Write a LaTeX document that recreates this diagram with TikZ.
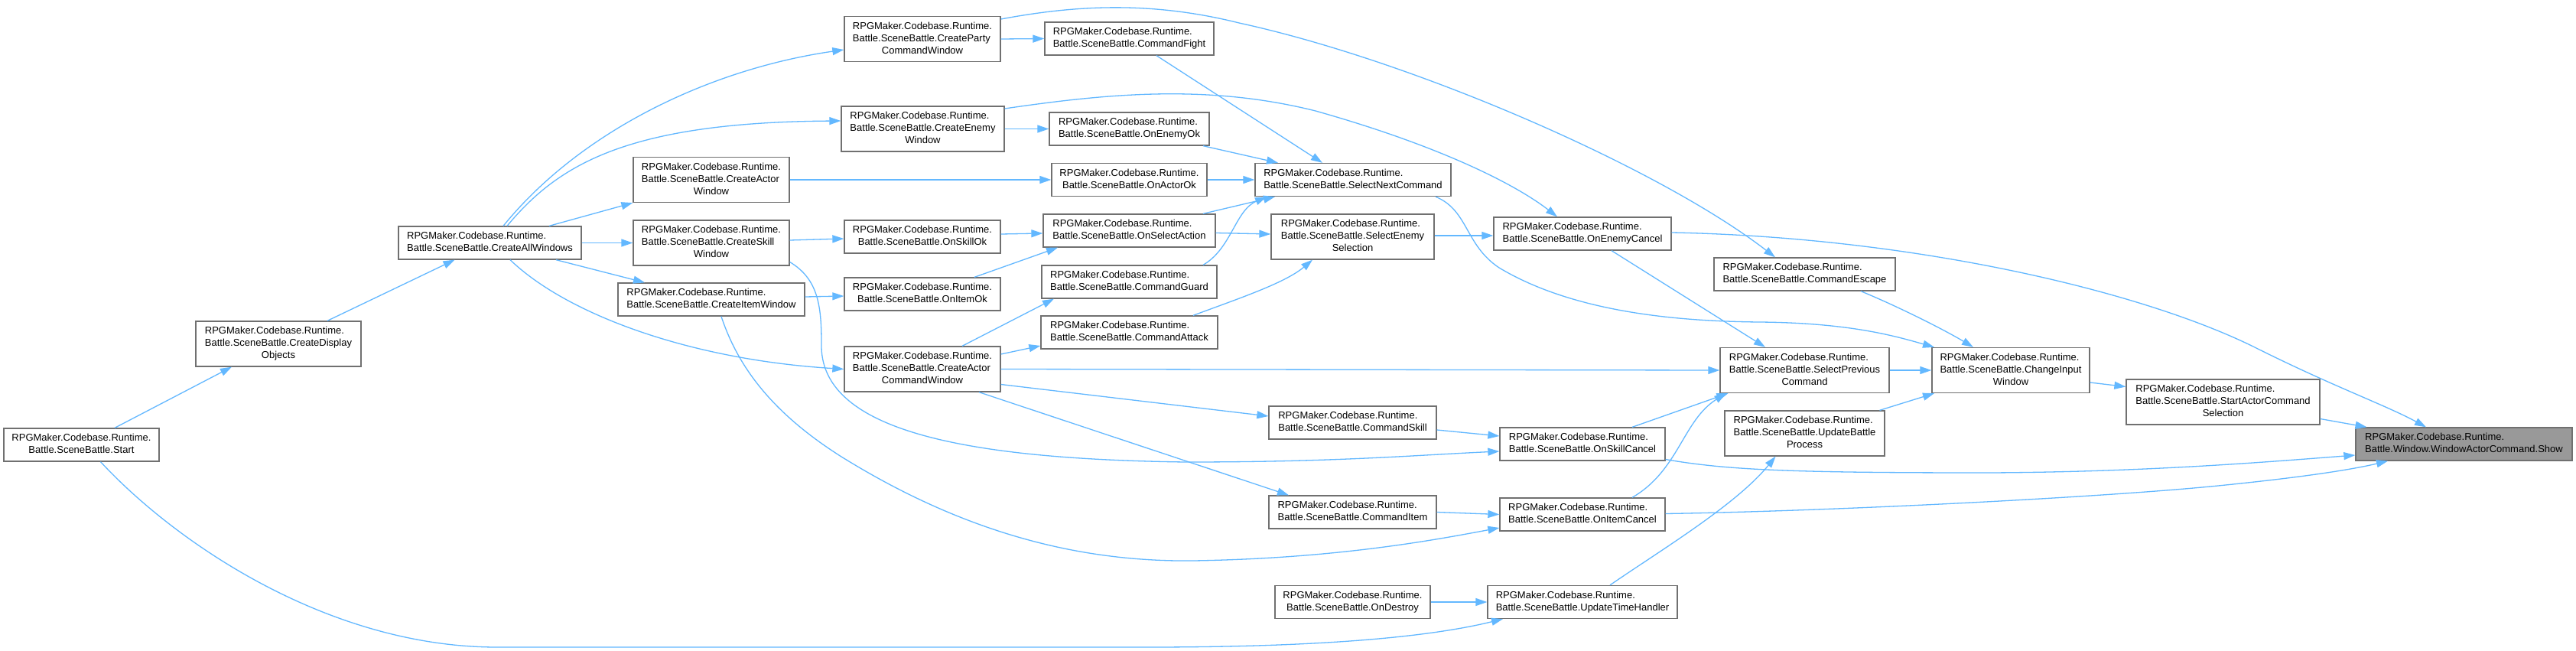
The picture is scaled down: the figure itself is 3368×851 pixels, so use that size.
\documentclass[tikz,border=0pt]{standalone}
\usepackage{fontspec}
\setmainfont{Liberation Sans}
\usetikzlibrary{arrows.meta}
\definecolor{edgeblue}{HTML}{63B8FF}
\definecolor{boxgrey}{HTML}{707070}
\definecolor{showfill}{HTML}{999999}
\newcommand{\lbltwo}[2]{\begin{tabular}{@{}l@{}}#1\\\multicolumn{1}{@{}c@{}}{#2}\end{tabular}}
\newcommand{\lblthree}[3]{\begin{tabular}{@{}l@{}}#1\\#2\\\multicolumn{1}{@{}c@{}}{#3}\end{tabular}}
\newcommand{\RPG}{RPGMaker.Codebase.Runtime.}
\begin{document}
\begin{tikzpicture}[x=1pt,y=-1pt,
  box/.style={draw=boxgrey, line width=1.3pt, fill=white, inner sep=2pt, minimum height=43pt, font=\fontsize{13}{16}\selectfont, anchor=center},
  box3/.style={box, minimum height=59pt},
  conn/.style={draw=edgeblue, line width=1.3pt, -{Triangle[length=15pt,width=10pt]}}]
\fill[white] (0,0) rectangle (3368,851);
\useasboundingbox (0,0) rectangle (3368,851);

\node[box, minimum width=203pt] (start) at (106.5,581.5) {\lbltwo{\RPG}{Battle.SceneBattle.Start}};
\node[box3, minimum width=216pt] (cdo) at (364,449.5) {\lblthree{\RPG}{Battle.SceneBattle.CreateDisplay}{Objects}};
\node[box, minimum width=239pt] (caw) at (640.5,317.5) {\lbltwo{\RPG}{Battle.SceneBattle.CreateAllWindows}};
\node[box3, minimum width=204pt] (cpcw) at (1206,51) {\lblthree{\RPG}{Battle.SceneBattle.CreateParty}{CommandWindow}};
\node[box3, minimum width=213pt] (cew) at (1206.5,168.5) {\lblthree{\RPG}{Battle.SceneBattle.CreateEnemy}{Window}};
\node[box3, minimum width=204pt] (cactw) at (930,235) {\lblthree{\RPG}{Battle.SceneBattle.CreateActor}{Window}};
\node[box3, minimum width=204pt] (csw) at (930,317.5) {\lblthree{\RPG}{Battle.SceneBattle.CreateSkill}{Window}};
\node[box, minimum width=244pt] (ciw) at (930,391.5) {\lbltwo{\RPG}{Battle.SceneBattle.CreateItemWindow}};
\node[box3, minimum width=204pt] (cacw) at (1206,482.5) {\lblthree{\RPG}{Battle.SceneBattle.CreateActor}{CommandWindow}};
\node[box, minimum width=204pt] (onskillok) at (1206,309.5) {\lbltwo{\RPG}{Battle.SceneBattle.OnSkillOk}};
\node[box, minimum width=204pt] (onitemok) at (1206,384.5) {\lbltwo{\RPG}{Battle.SceneBattle.OnItemOk}};
\node[box, minimum width=221pt] (cmdfight) at (1476.5,50.5) {\lbltwo{\RPG}{Battle.SceneBattle.CommandFight}};
\node[box, minimum width=209pt] (onenemyok) at (1476.5,168.5) {\lbltwo{\RPG}{Battle.SceneBattle.OnEnemyOk}};
\node[box, minimum width=203pt] (onactorok) at (1476.5,235) {\lbltwo{\RPG}{Battle.SceneBattle.OnActorOk}};
\node[box, minimum width=225pt] (onselact) at (1476.5,301.5) {\lbltwo{\RPG}{Battle.SceneBattle.OnSelectAction}};
\node[box, minimum width=229pt] (cmdguard) at (1476.5,368.5) {\lbltwo{\RPG}{Battle.SceneBattle.CommandGuard}};
\node[box, minimum width=231pt] (cmdattack) at (1476.5,434.5) {\lbltwo{\RPG}{Battle.SceneBattle.CommandAttack}};
\node[box, minimum width=256pt] (selnext) at (1769,235) {\lbltwo{\RPG}{Battle.SceneBattle.SelectNextCommand}};
\node[box3, minimum width=213pt] (selenemy) at (1768.5,309.5) {\lblthree{\RPG}{Battle.SceneBattle.SelectEnemy}{Selection}};
\node[box, minimum width=219pt] (cmdskill) at (1768.5,552.5) {\lbltwo{\RPG}{Battle.SceneBattle.CommandSkill}};
\node[box, minimum width=219pt] (cmditem) at (1768.5,669.5) {\lbltwo{\RPG}{Battle.SceneBattle.CommandItem}};
\node[box, minimum width=203pt] (ondestroy) at (1768.5,787) {\lbltwo{\RPG}{Battle.SceneBattle.OnDestroy}};
\node[box, minimum width=232pt] (onenemycancel) at (2069,305.5) {\lbltwo{\RPG}{Battle.SceneBattle.OnEnemyCancel}};
\node[box, minimum width=216pt] (onskillcancel) at (2069,580.5) {\lbltwo{\RPG}{Battle.SceneBattle.OnSkillCancel}};
\node[box, minimum width=216pt] (onitemcancel) at (2069,672.5) {\lbltwo{\RPG}{Battle.SceneBattle.OnItemCancel}};
\node[box, minimum width=248pt] (updtime) at (2069,787) {\lbltwo{\RPG}{Battle.SceneBattle.UpdateTimeHandler}};
\node[box, minimum width=237pt] (cmdescape) at (2359.5,358.5) {\lbltwo{\RPG}{Battle.SceneBattle.CommandEscape}};
\node[box3, minimum width=221pt] (selprev) at (2359.5,484) {\lblthree{\RPG}{Battle.SceneBattle.SelectPrevious}{Command}};
\node[box3, minimum width=209pt] (updbattle) at (2359.5,566.5) {\lblthree{\RPG}{Battle.SceneBattle.UpdateBattle}{Process}};
\node[box3, minimum width=206pt] (changeinput) at (2629,484) {\lblthree{\RPG}{Battle.SceneBattle.ChangeInput}{Window}};
\node[box3, minimum width=253pt] (startactor) at (2906.5,525.5) {\lblthree{\RPG}{Battle.SceneBattle.StartActorCommand}{Selection}};
\node[box, minimum width=283pt, fill=showfill] (show) at (3221.5,580.5) {\lbltwo{\RPG}{Battle.Window.WindowActorCommand.Show}};

\draw[conn] ([xshift=43.5pt]start.north) -- ([xshift=-61pt]cdo.south);
\draw[conn] ([xshift=64pt]cdo.north) -- ([xshift=-46pt]caw.south);
\draw[conn] ([xshift=25pt]start.south) .. controls (230,710) and (430,846) .. (650,846) -- (1500,846) .. controls (1750,846) and (1880,830) .. ([xshift=-104pt]updtime.south);
\draw[conn] ([xshift=17.5pt]caw.north) .. controls (760,170) and (930,90) .. ([yshift=-14pt]cpcw.west);
\draw[conn] ([xshift=22.5pt]caw.north) .. controls (730,215) and (820,160) .. ([yshift=10.5pt]cew.west);
\draw[conn] ([xshift=77.5pt]caw.north) -- (cactw.south west);
\draw[conn] (caw.east) -- (csw.west);
\draw[conn] ([xshift=86.5pt]caw.south) -- ([xshift=-87pt]ciw.north);
\draw[conn] ([xshift=26.5pt]caw.south) .. controls (740,410) and (900,470) .. (cacw.west);
\draw[conn] (cpcw.east) -- (cmdfight.west);
\draw[conn] ([yshift=26pt]cpcw.east) .. controls (1400,8) and (1500,0) .. (1620,30) .. controls (1850,80) and (2170,220) .. ([xshift=-38.5pt]cmdescape.north);
\draw[conn] (cew.east) -- (onenemyok.west);
\draw[conn] ([yshift=26.5pt]cew.east) .. controls (1450,122) and (1580,110) .. (1720,145) .. controls (1880,190) and (1980,240) .. ([xshift=-33pt]onenemycancel.north);
\draw[conn] (cactw.east) -- (onactorok.west);
\draw[conn] ([yshift=3.5pt]csw.east) -- ([yshift=-2.5pt]onskillok.west);
\draw[conn] ([yshift=-25pt]csw.east) .. controls (1070,365) and (1074,400) .. (1074,450) .. controls (1072,560) and (1250,600) .. (1550,604) .. controls (1750,604) and (1850,595) .. ([yshift=-9.5pt]onskillcancel.west);
\draw[conn] ([yshift=3.5pt]ciw.east) -- ([yshift=-2.5pt]onitemok.west);
\draw[conn] ([xshift=13pt]ciw.south) .. controls (965,480) and (1010,540) .. (1100,597) .. controls (1250,690) and (1400,735) .. (1560,733) .. controls (1750,730) and (1880,705) .. ([yshift=-17.5pt]onitemcancel.west);
\draw[conn] ([xshift=52pt]cacw.north) -- ([xshift=-98.5pt]cmdguard.south);
\draw[conn] ([yshift=19.5pt]cacw.east) -- ([yshift=-17.5pt]cmdattack.west);
\draw[conn] (cacw.east) -- (selprev.west);
\draw[conn] ([yshift=-20pt]cacw.east) -- ([yshift=8.5pt]cmdskill.west);
\draw[conn] ([xshift=74pt]cacw.south) -- ([xshift=-83.5pt]cmditem.north);
\draw[conn] ([yshift=3.5pt]onskillok.east) -- ([yshift=-3.5pt]onselact.west);
\draw[conn] ([xshift=68pt]onitemok.north) -- ([xshift=-93.5pt]onselact.south);
\draw[conn] ([xshift=35.5pt]cmdfight.south) -- ([xshift=-40pt]selnext.north);
\draw[conn] ([xshift=96.5pt]onenemyok.south) -- ([xshift=-98pt]selnext.north);
\draw[conn] (onactorok.east) -- (selnext.west);
\draw[conn] ([xshift=96.5pt]onselact.north) -- ([xshift=-102pt]selnext.south);
\draw[conn] ([xshift=96.5pt]cmdguard.north) .. controls (1610,325) and (1615,275) .. ([xshift=-113pt]selnext.south);
\draw[conn] ([yshift=-3pt]onselact.east) -- ([yshift=3.5pt]selenemy.west);
\draw[conn] ([xshift=83.5pt]cmdattack.north) .. controls (1620,390) and (1680,370) .. ([xshift=-52.5pt]selenemy.south);
\draw[conn] ([xshift=108pt]selnext.south) .. controls (1920,275) and (1915,320) .. (1960,350) .. controls (2060,410) and (2200,420) .. (2300,421) .. controls (2420,422) and (2480,440) .. ([xshift=-100pt]changeinput.north);
\draw[conn] ([yshift=1.5pt]selenemy.east) -- ([yshift=-2.5pt]onenemycancel.west);
\draw[conn] ([yshift=1.5pt]onenemycancel.east) .. controls (2500,310) and (2800,380) .. (2950,455) .. controls (3050,505) and (3120,530) .. ([xshift=-49.5pt]show.north);
\draw[conn] ([xshift=38pt]onenemycancel.south) -- ([xshift=-51.5pt]selprev.north);
\draw[conn] ([xshift=73.5pt]cmdescape.south) .. controls (2480,400) and (2540,430) .. ([xshift=-49pt]changeinput.north);
\draw[conn] (selprev.east) -- (changeinput.west);
\draw[conn] ([xshift=98pt]updbattle.north) -- ([xshift=-100pt]changeinput.south);
\draw[conn] ([yshift=-16pt]changeinput.east) -- ([yshift=20pt]startactor.west);
\draw[conn] ([yshift=-22pt]startactor.east) -- ([xshift=-127pt]show.north);
\draw[conn] ([xshift=65pt]onskillcancel.north) -- ([xshift=-100pt]selprev.south);
\draw[conn] ([xshift=65pt]onitemcancel.north) .. controls (2195,615) and (2200,550) .. ([xshift=-103pt]selprev.south);
\draw[conn] ([yshift=-20pt]onskillcancel.east) .. controls (2260,615) and (2350,618) .. (2600,618) .. controls (2800,617) and (2950,605) .. ([yshift=-14.5pt]show.west);
\draw[conn] ([yshift=1pt]onitemcancel.east) .. controls (2400,668) and (2750,650) .. (2900,635) .. controls (3000,625) and (3070,615) .. ([xshift=-99.5pt]show.south);
\draw[conn] ([yshift=-9.5pt]cmdskill.east) -- ([yshift=10.5pt]onskillcancel.west);
\draw[conn] (cmditem.east) -- (onitemcancel.west);
\draw[conn] (ondestroy.east) -- (updtime.west);
\draw[conn] ([xshift=36pt]updtime.north) .. controls (2170,720) and (2270,660) .. ([xshift=-38pt]updbattle.south);
\end{tikzpicture}
\end{document}
